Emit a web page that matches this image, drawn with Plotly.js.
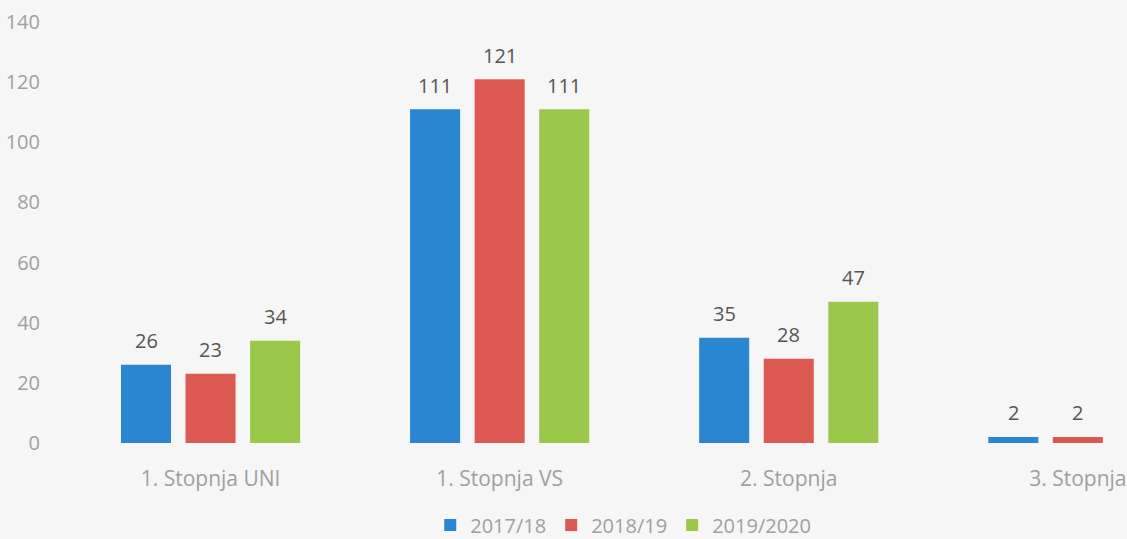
<!DOCTYPE html>
<html>
<head>
<meta charset="utf-8">
<script src="https://cdn.plot.ly/plotly-3.0.1.min.js"></script>
<style>html,body{margin:0;padding:0;background:#f6f6f6;}#chart{width:1127px;height:539px;}</style>
</head>
<body>
<div id="chart"></div>
<script>
const categories = ["1. Stopnja UNI", "1. Stopnja VS", "2. Stopnja", "3. Stopnja"];
const seriesNames = ["2017/18", "2018/19", "2019/2020"];
const values2017 = [26, 111, 35, 2];
const values2018 = [23, 121, 28, 2];
const values2019 = [34, 111, 47, null];
const colors = ["#2a86d0", "#dc5a52", "#9bc84a"];
const yTicks = [0, 20, 40, 60, 80, 100, 120, 140];

const FONT = "'Open Sans', sans-serif";
const allValues = [values2017, values2018, values2019];
const traces = allValues.map((vals, i) => ({
  type: "bar",
  name: seriesNames[i],
  x: categories,
  y: vals,
  marker: {color: colors[i]},
  hoverinfo: "none"
}));

// value labels placed above each bar, offset to the group slot
const slotPx = 64.5;
const annotations = [];
allValues.forEach((vals, i) => {
  vals.forEach((v, j) => {
    if (v == null) return;
    annotations.push({
      x: categories[j], y: v, xref: "x", yref: "y",
      text: String(v), showarrow: false,
      xshift: (i - 1) * slotPx, yshift: 24, yanchor: "middle",
      font: {family: FONT, size: 20, color: "#555"}
    });
  });
});

const layout = {
  width: 1127, height: 539,
  paper_bgcolor: "#f6f6f6", plot_bgcolor: "#f6f6f6",
  margin: {l: 66, r: 0, t: 22, b: 96},
  barmode: "group", bargap: 0.33, bargroupgap: 0.225,
  font: {family: FONT, color: "#999"},
  xaxis: {
    range: [-0.5, 3.17], showgrid: false, zeroline: false, showline: false,
    ticks: "outside", ticklen: 17, tickcolor: "rgba(0,0,0,0)",
    tickfont: {size: 21, color: "#a0a0a0"}, automargin: false
  },
  yaxis: {
    range: [0, 140], tickvals: yTicks, showgrid: false, zeroline: false, showline: false,
    ticks: "outside", ticklen: 21, tickcolor: "rgba(0,0,0,0)",
    tickfont: {size: 20, color: "#a0a0a0"}, automargin: false
  },
  annotations: annotations,
  showlegend: true,
  legend: {
    orientation: "h", x: 0.553, xref: "container", xanchor: "center",
    y: 0.026, yref: "container", yanchor: "middle",
    font: {family: FONT, size: 20, color: "#a0a0a0"}, traceorder: "normal",
    itemwidth: 30, bgcolor: "rgba(0,0,0,0)"
  }
};
Plotly.newPlot("chart", traces, layout, {staticPlot: true});
</script>
</body>
</html>
